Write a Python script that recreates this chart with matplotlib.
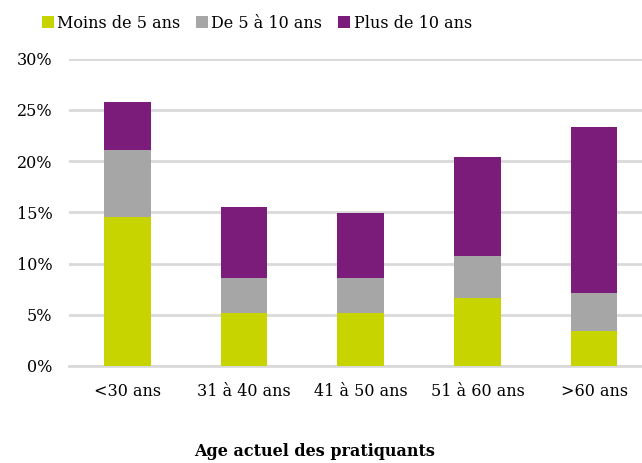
import matplotlib.pyplot as plt
import numpy as np

# ============================== DATA =================================
categories = ["<30 ans", "31 à 40 ans", "41 à 50 ans", "51 à 60 ans", ">60 ans"]
series_names = ["Moins de 5 ans", "De 5 à 10 ans", "Plus de 10 ans"]
# segment heights, in %
moins_5 = [14.5, 5.2, 5.2, 6.6, 3.4]
de_5_10 = [6.6, 3.4, 3.4, 4.1, 3.7]
plus_10 = [4.7, 6.9, 6.3, 9.7, 16.2]
y_ticks = [0, 5, 10, 15, 20, 25, 30]

colors = ["#c8d400", "#a6a6a6", "#7b1c7b"]

plt.rcParams['font.family'] = ['DejaVu Serif']

# ============================== PLOT =================================
fig = plt.figure(figsize=(6.42, 4.63), dpi=100)
ax = fig.add_axes([69/642, 1 - 366/463, 1 - 69/642, (366 - 58.5)/463])

x = np.arange(len(categories))
bottom = np.zeros(len(categories))
handles = []
for name, vals, c in zip(series_names, [moins_5, de_5_10, plus_10], colors):
    b = ax.bar(x, vals, width=0.4, bottom=bottom, color=c, label=name, zorder=3)
    handles.append(b)
    bottom += np.array(vals)

ax.set_ylim(0, 30)
ax.set_xlim(-0.5, 4.41)
ax.set_yticks(y_ticks)
ax.set_yticklabels([f"{v}%" for v in y_ticks], fontsize=11.5)
ax.set_xticks(x)
ax.set_xticklabels(categories, fontsize=11.5)
ax.tick_params(axis='both', length=0)
ax.tick_params(axis='x', pad=12)
ax.tick_params(axis='y', pad=12)

ax.grid(axis='y', color='#d9d9d9', linewidth=2, zorder=0)
for s in ["top", "right", "left"]:
    ax.spines[s].set_visible(False)
ax.spines["bottom"].set_color('#d9d9d9')
ax.spines["bottom"].set_linewidth(2)

fig.legend(handles=handles, loc='center', bbox_to_anchor=(0.40, 1 - 23/463),
           ncol=3, frameon=False, fontsize=11.5, handlelength=0.75,
           handleheight=0.75, handletextpad=0.2, columnspacing=1.0)

fig.text(0.49, 1 - 452/463, "Age actuel des pratiquants", ha='center', va='center',
         fontsize=11.5, fontweight='bold')

fig.savefig("out.png", dpi=100)
